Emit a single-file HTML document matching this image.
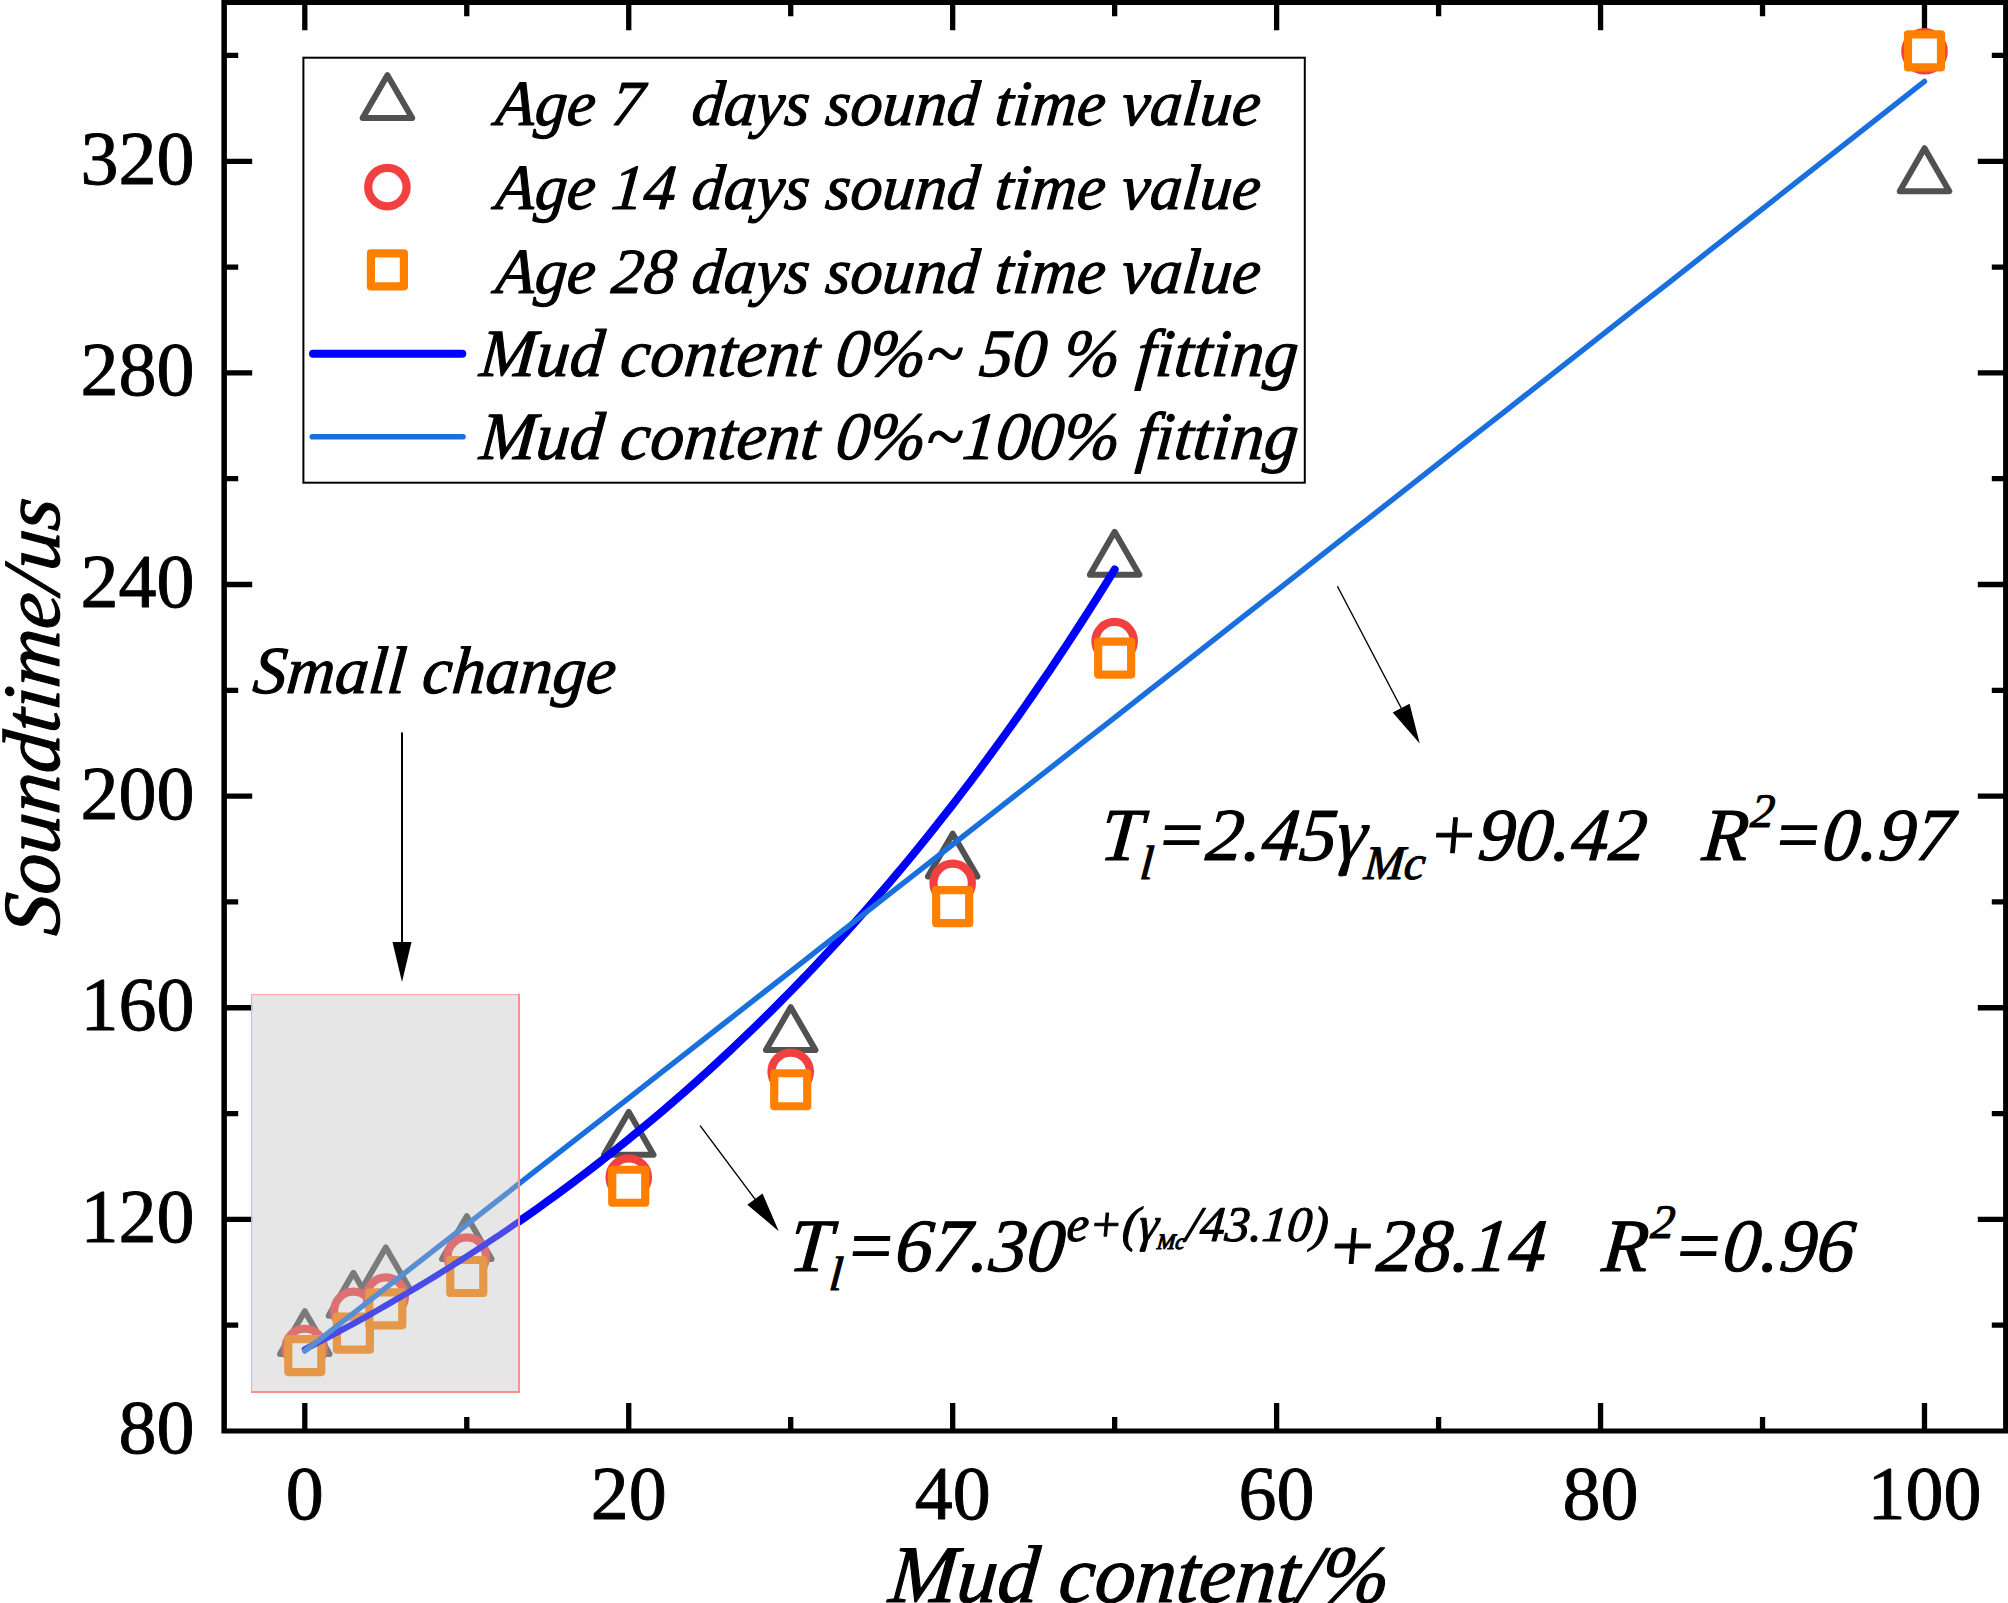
<!DOCTYPE html>
<html lang="en"><head><meta charset="utf-8"><title>Sound time vs mud content</title>
<style>html,body{margin:0;padding:0;background:#fff}body{width:2008px;height:1603px;overflow:hidden}svg{display:block}text{font-family:'Liberation Serif','Times New Roman',Times,serif;fill:#000;white-space:pre;stroke:#000;stroke-width:0.9px;stroke-linejoin:round}.it{font-style:italic;stroke-width:1.1px}</style></head><body>
<svg width="2008" height="1603" viewBox="0 0 2008 1603">
<rect x="0" y="0" width="2008" height="1603" fill="#fff"/>
<path d="M304.80 1429.40V1403.10M304.80 3.90V30.20M466.77 1429.40V1417.10M466.77 3.90V16.20M628.74 1429.40V1403.10M628.74 3.90V30.20M790.71 1429.40V1417.10M790.71 3.90V16.20M952.68 1429.40V1403.10M952.68 3.90V30.20M1114.65 1429.40V1417.10M1114.65 3.90V16.20M1276.62 1429.40V1403.10M1276.62 3.90V30.20M1438.59 1429.40V1417.10M1438.59 3.90V16.20M1600.56 1429.40V1403.10M1600.56 3.90V30.20M1762.53 1429.40V1417.10M1762.53 3.90V16.20M1924.50 1429.40V1403.10M1924.50 3.90V30.20M225.90 1325.19H238.20M2004.10 1325.19H1991.80M225.90 1219.38H252.20M2004.10 1219.38H1977.80M225.90 1113.57H238.20M2004.10 1113.57H1991.80M225.90 1007.76H252.20M2004.10 1007.76H1977.80M225.90 901.95H238.20M2004.10 901.95H1991.80M225.90 796.14H252.20M2004.10 796.14H1977.80M225.90 690.33H238.20M2004.10 690.33H1991.80M225.90 584.52H252.20M2004.10 584.52H1977.80M225.90 478.71H238.20M2004.10 478.71H1991.80M225.90 372.90H252.20M2004.10 372.90H1977.80M225.90 267.09H238.20M2004.10 267.09H1991.80M225.90 161.28H252.20M2004.10 161.28H1977.80M225.90 55.47H238.20M2004.10 55.47H1991.80" stroke="#000" stroke-width="5.3" fill="none"/>
<path fill="#000" d="M221.4 -1H226.9V1433.4H221.4ZM2003.1 -1H2009V1433.4H2003.1ZM221.4 -1H2009V4.9H221.4ZM221.4 1428.4H2009V1433.4H221.4Z"/>
<text x="304.8" y="1519.4" font-size="76" text-anchor="middle">0</text>
<text x="628.7" y="1519.4" font-size="76" text-anchor="middle">20</text>
<text x="952.7" y="1519.4" font-size="76" text-anchor="middle">40</text>
<text x="1276.6" y="1519.4" font-size="76" text-anchor="middle">60</text>
<text x="1600.6" y="1519.4" font-size="76" text-anchor="middle">80</text>
<text x="1924.5" y="1519.4" font-size="76" text-anchor="middle">100</text>
<text x="194.6" y="1453.4" font-size="76" text-anchor="end">80</text>
<text x="194.6" y="1241.8" font-size="76" text-anchor="end">120</text>
<text x="194.6" y="1030.2" font-size="76" text-anchor="end">160</text>
<text x="194.6" y="818.5" font-size="76" text-anchor="end">200</text>
<text x="194.6" y="606.9" font-size="76" text-anchor="end">240</text>
<text x="194.6" y="395.3" font-size="76" text-anchor="end">280</text>
<text x="194.6" y="183.7" font-size="76" text-anchor="end">320</text>
<text class="it" transform="translate(1137.5 1601.7) skewX(-5)" font-size="81.5" text-anchor="middle">Mud content/%</text>
<text class="it" transform="translate(59.3 718.2) rotate(-90) skewX(-5)" font-size="81" text-anchor="middle">Soundtime/us</text>
<g fill="#fff" stroke="#515151" stroke-width="6" stroke-linejoin="round">
<path d="M304.80 1311.14L329.57 1354.04H280.03Z"/>
<path d="M353.39 1272.78L378.16 1315.68H328.62Z"/>
<path d="M385.79 1247.39L410.55 1290.29H361.02Z"/>
<path d="M466.77 1216.17L491.54 1259.07H442.00Z"/>
<path d="M628.74 1111.95L653.51 1154.85H603.97Z"/>
<path d="M790.71 1007.20L815.48 1050.10H765.94Z"/>
<path d="M952.68 833.67L977.45 876.57H927.91Z"/>
<path d="M1114.65 531.85L1139.42 574.75H1089.88Z"/>
<path d="M1924.50 148.23L1949.27 191.13H1899.73Z"/>
</g>
<g fill="#fff" stroke="#f14040" stroke-width="8.2">
<circle cx="304.80" cy="1347.94" r="19.2"/>
<circle cx="353.39" cy="1310.91" r="19.2"/>
<circle cx="385.79" cy="1296.62" r="19.2"/>
<circle cx="466.77" cy="1256.63" r="19.2"/>
<circle cx="628.74" cy="1177.59" r="19.2"/>
<circle cx="790.71" cy="1071.78" r="19.2"/>
<circle cx="952.68" cy="882.90" r="19.2"/>
<circle cx="1114.65" cy="641.13" r="19.2"/>
<circle cx="1924.50" cy="51.24" r="19.2"/>
</g>
<g fill="#fff" stroke="#ff8000" stroke-width="8.2" stroke-linejoin="round">
<rect x="288.30" y="1339.11" width="33.0" height="33.0"/>
<rect x="336.89" y="1316.63" width="33.0" height="33.0"/>
<rect x="369.29" y="1292.29" width="33.0" height="33.0"/>
<rect x="450.27" y="1260.02" width="33.0" height="33.0"/>
<rect x="612.24" y="1169.76" width="33.0" height="33.0"/>
<rect x="774.21" y="1073.26" width="33.0" height="33.0"/>
<rect x="936.18" y="890.21" width="33.0" height="33.0"/>
<rect x="1098.15" y="641.56" width="33.0" height="33.0"/>
<rect x="1908.00" y="34.47" width="33.0" height="33.0"/>
</g>
<defs><clipPath id="cin"><rect x="251" y="994" width="268.5" height="399"/></clipPath><clipPath id="cout"><path clip-rule="evenodd" d="M0 0H2008V1603H0ZM519.5 994V1393H251V994Z"/></clipPath></defs>
<polyline clip-path="url(#cout)" points="304.80,1349.31 312.90,1345.16 321.00,1340.96 329.10,1336.70 337.19,1332.40 345.29,1328.05 353.39,1323.65 361.49,1319.19 369.59,1314.69 377.69,1310.13 385.79,1305.52 393.88,1300.85 401.98,1296.13 410.08,1291.36 418.18,1286.53 426.28,1281.64 434.38,1276.70 442.47,1271.69 450.57,1266.63 458.67,1261.51 466.77,1256.33 474.87,1251.09 482.97,1245.79 491.07,1240.43 499.16,1235.01 507.26,1229.52 515.36,1223.97 523.46,1218.35 531.56,1212.67 539.66,1206.92 547.75,1201.10 555.85,1195.22 563.95,1189.26 572.05,1183.24 580.15,1177.15 588.25,1170.99 596.35,1164.75 604.44,1158.44 612.54,1152.06 620.64,1145.60 628.74,1139.07 636.84,1132.47 644.94,1125.78 653.04,1119.02 661.13,1112.18 669.23,1105.25 677.33,1098.25 685.43,1091.17 693.53,1084.00 701.63,1076.75 709.72,1069.42 717.82,1062.00 725.92,1054.49 734.02,1046.89 742.12,1039.21 750.22,1031.44 758.32,1023.57 766.41,1015.62 774.51,1007.57 782.61,999.43 790.71,991.19 798.81,982.86 806.91,974.43 815.01,965.90 823.10,957.27 831.20,948.54 839.30,939.71 847.40,930.77 855.50,921.74 863.60,912.59 871.69,903.34 879.79,893.98 887.89,884.52 895.99,874.94 904.09,865.25 912.19,855.45 920.29,845.53 928.38,835.49 936.48,825.34 944.58,815.08 952.68,804.69 960.78,794.18 968.88,783.55 976.98,772.79 985.07,761.91 993.17,750.90 1001.27,739.76 1009.37,728.50 1017.47,717.10 1025.57,705.56 1033.66,693.90 1041.76,682.10 1049.86,670.16 1057.96,658.08 1066.06,645.86 1074.16,633.49 1082.26,620.99 1090.35,608.33 1098.45,595.53 1106.55,582.58 1114.65,569.48" fill="none" stroke="#0000ff" stroke-width="8" stroke-linecap="round" stroke-linejoin="round"/>
<polyline clip-path="url(#cin)" points="304.80,1349.31 312.90,1345.16 321.00,1340.96 329.10,1336.70 337.19,1332.40 345.29,1328.05 353.39,1323.65 361.49,1319.19 369.59,1314.69 377.69,1310.13 385.79,1305.52 393.88,1300.85 401.98,1296.13 410.08,1291.36 418.18,1286.53 426.28,1281.64 434.38,1276.70 442.47,1271.69 450.57,1266.63 458.67,1261.51 466.77,1256.33 474.87,1251.09 482.97,1245.79 491.07,1240.43 499.16,1235.01 507.26,1229.52 515.36,1223.97 523.46,1218.35 531.56,1212.67 539.66,1206.92 547.75,1201.10 555.85,1195.22 563.95,1189.26 572.05,1183.24 580.15,1177.15 588.25,1170.99 596.35,1164.75 604.44,1158.44 612.54,1152.06 620.64,1145.60 628.74,1139.07 636.84,1132.47 644.94,1125.78 653.04,1119.02 661.13,1112.18 669.23,1105.25 677.33,1098.25 685.43,1091.17 693.53,1084.00 701.63,1076.75 709.72,1069.42 717.82,1062.00 725.92,1054.49 734.02,1046.89 742.12,1039.21 750.22,1031.44 758.32,1023.57 766.41,1015.62 774.51,1007.57 782.61,999.43 790.71,991.19 798.81,982.86 806.91,974.43 815.01,965.90 823.10,957.27 831.20,948.54 839.30,939.71 847.40,930.77 855.50,921.74 863.60,912.59 871.69,903.34 879.79,893.98 887.89,884.52 895.99,874.94 904.09,865.25 912.19,855.45 920.29,845.53 928.38,835.49 936.48,825.34 944.58,815.08 952.68,804.69 960.78,794.18 968.88,783.55 976.98,772.79 985.07,761.91 993.17,750.90 1001.27,739.76 1009.37,728.50 1017.47,717.10 1025.57,705.56 1033.66,693.90 1041.76,682.10 1049.86,670.16 1057.96,658.08 1066.06,645.86 1074.16,633.49 1082.26,620.99 1090.35,608.33 1098.45,595.53 1106.55,582.58 1114.65,569.48" fill="none" stroke="#0000ff" stroke-width="6.3" stroke-linecap="round" stroke-linejoin="round"/>
<polyline points="304.80,1351.11 337.19,1325.82 369.59,1300.53 401.98,1275.23 434.38,1249.93 466.77,1224.62 499.16,1199.31 531.56,1173.99 563.95,1148.67 596.35,1123.34 628.74,1098.02 661.13,1072.68 693.53,1047.35 725.92,1022.00 758.32,996.66 790.71,971.31 823.10,945.95 855.50,920.60 887.89,895.23 920.29,869.87 952.68,844.50 985.07,819.12 1017.47,793.74 1049.86,768.36 1082.26,742.97 1114.65,717.58 1147.04,692.18 1179.44,666.78 1211.83,641.37 1244.23,615.96 1276.62,590.55 1309.01,565.13 1341.41,539.71 1373.80,514.29 1406.20,488.86 1438.59,463.42 1470.98,437.98 1503.38,412.54 1535.77,387.09 1568.17,361.64 1600.56,336.18 1632.95,310.72 1665.35,285.26 1697.74,259.79 1730.14,234.32 1762.53,208.84 1794.92,183.36 1827.32,157.88 1859.71,132.39 1892.11,106.89 1924.50,81.39" fill="none" stroke="#1a6fdf" stroke-width="5.4" stroke-linecap="round" stroke-linejoin="round"/>
<rect x="251" y="994" width="269" height="399" fill="#bebebe" fill-opacity="0.39"/>
<rect x="251" y="994" width="1.1" height="399" fill="#ffa6a6"/><rect x="251" y="994" width="269" height="1.1" fill="#ffaaaa"/><rect x="518" y="994" width="2" height="399" fill="#f89292"/><rect x="251" y="1391" width="269" height="2" fill="#f88e8e"/>
<rect x="303.4" y="57.7" width="1001.4" height="425" fill="#fff" stroke="#000" stroke-width="2"/>
<path d="M387.40 75.20L412.17 118.10H362.63Z" fill="#fff" stroke="#515151" stroke-width="6" stroke-linejoin="round"/>
<circle cx="387.4" cy="187.1" r="19.2" fill="#fff" stroke="#f14040" stroke-width="8.2"/>
<rect x="370.90" y="253.40" width="33.0" height="33.0" fill="#fff" stroke="#ff8000" stroke-width="8.2" stroke-linejoin="round"/>
<line x1="313" y1="353.8" x2="462.3" y2="353.8" stroke="#0000ff" stroke-width="8" stroke-linecap="round"/>
<line x1="312.3" y1="436.8" x2="463" y2="436.8" stroke="#1a6fdf" stroke-width="5.6" stroke-linecap="round"/>
<text class="it" transform="translate(494.5 125.0) skewX(-5)" font-size="64.2">Age 7   days sound time value</text>
<text class="it" transform="translate(494.5 208.6) skewX(-5)" font-size="64.2">Age 14 days sound time value</text>
<text class="it" transform="translate(494.5 292.7) skewX(-5)" font-size="64.2">Age 28 days sound time value</text>
<text class="it" transform="translate(478.5 375.8) skewX(-5)" font-size="67.5">Mud content 0%~ 50 % fitting</text>
<text class="it" transform="translate(478.5 458.9) skewX(-5)" font-size="67.5">Mud content 0%~100% fitting</text>
<text class="it" transform="translate(251.8 692.8) skewX(-5)" font-size="67">Small change</text>
<line x1="402.0" y1="732.4" x2="402.0" y2="943.9" stroke="#000" stroke-width="2"/><polygon points="402.0,981.9 392.5,941.9 411.5,941.9" fill="#000"/>
<line x1="1337.4" y1="586.3" x2="1402.1" y2="709.8" stroke="#000" stroke-width="1.4"/><polygon points="1419.7,743.5 1392.7,712.5 1409.6,703.7" fill="#000"/>
<line x1="700.1" y1="1125.6" x2="756.1" y2="1200.7" stroke="#000" stroke-width="1.4"/><polygon points="778.8,1231.2 747.3,1204.8 762.5,1193.5" fill="#000"/>
<text class="it" transform="translate(1099 859.5) skewX(-5)" font-size="74.8">T<tspan font-size="48" dy="19">l</tspan><tspan dy="-19">=2.45γ</tspan><tspan font-size="48" dy="19">Mc</tspan><tspan dy="-19">+90.42   R</tspan><tspan font-size="48" dy="-33">2</tspan><tspan dy="33">=0.97</tspan></text>
<text class="it" transform="translate(788 1270.8) skewX(-5)" font-size="75.2">T<tspan font-size="48" dy="19">l</tspan><tspan dy="-19">=67.30</tspan><tspan font-size="49.6" dy="-30">e+(γ</tspan><tspan font-size="22" dy="8">Mc</tspan><tspan font-size="49.6" dy="-8">/43.10)</tspan><tspan dy="30">+28.14   R</tspan><tspan font-size="48" dy="-33">2</tspan><tspan dy="33">=0.96</tspan></text>
</svg></body></html>
